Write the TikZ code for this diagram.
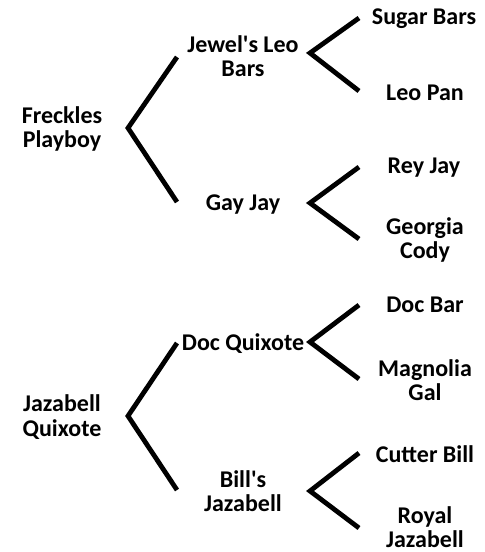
\documentclass[tikz,border=0pt]{standalone}
\usepackage{fontspec}
\setmainfont{Carlito}[Ligatures=TeXOff]
\begin{document}
\begin{tikzpicture}[x=1pt,y=-1pt,
  lbl/.style={font=\bfseries\fontsize{24}{24.5}\selectfont, align=center, inner sep=0pt},
  br/.style={line width=4.8pt}]
\useasboundingbox (0,0) rectangle (485,552);
% labels
\node[lbl] (fp) at (62,129) {Freckles\\Playboy};
\node[lbl] (jl) at (243,56) {Jewel's Leo\\Bars};
\node[lbl] (gj) at (243,205) {Gay Jay};
\node[lbl] (sb) at (424,19) {Sugar Bars};
\node[lbl] (lp) at (425,93) {Leo Pan};
\node[lbl] (rj) at (424,168) {Rey Jay};
\node[lbl] (gc) at (425,240) {Georgia\\Cody};
\node[lbl] (jq) at (62,417) {Jazabell\\Quixote};
\node[lbl] (dq) at (243,344) {Doc Quixote};
\node[lbl] (bj) at (243,491) {Bill's\\Jazabell};
\node[lbl] (db) at (425,305) {Doc Bar};
\node[lbl] (mg) at (425,380) {Magnolia\\Gal};
\node[lbl] (cb) at (425,454) {Cutter Bill};
\node[lbl] (rjz) at (425,527) {Royal\\Jazabell};
% bracket corners
\coordinate (v1) at (128,128); \coordinate (t1) at (177,57); \coordinate (b1) at (177,202);
\coordinate (v2) at (310,53); \coordinate (t2) at (359,18); \coordinate (b2) at (359,91);
\coordinate (v3) at (310,203); \coordinate (t3) at (359,167); \coordinate (b3) at (359,239);
\coordinate (v4) at (128,416); \coordinate (t4) at (177,343); \coordinate (b4) at (177,490);
\coordinate (v5) at (310,342); \coordinate (t5) at (359,305); \coordinate (b5) at (359,379);
\coordinate (v6) at (310,491); \coordinate (t6) at (359,453); \coordinate (b6) at (359,528);
\foreach \i in {1,...,6} \draw[br] (t\i) -- (v\i) -- (b\i);
\end{tikzpicture}
\end{document}
